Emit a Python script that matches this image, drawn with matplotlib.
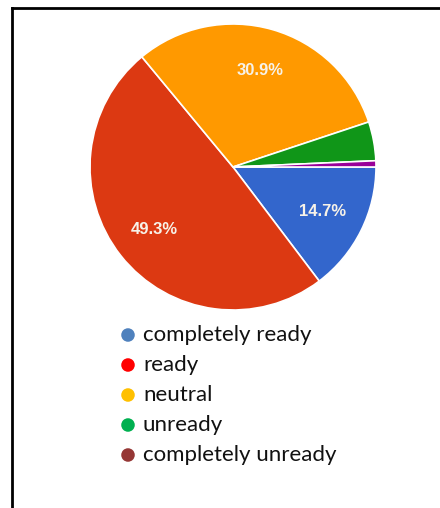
import matplotlib.pyplot as plt
from matplotlib.lines import Line2D

# --- Data ---
labels = ["completely ready", "ready", "neutral", "unready", "completely unready"]
shares = [14.7, 49.3, 30.9, 4.4, 0.7]
pie_colors = ["#3366cc", "#dc3912", "#ff9900", "#109618", "#990099"]
legend_colors = ["#4f81bd", "#ff0000", "#ffc000", "#00b050", "#953735"]

W, H = 440, 508
fig = plt.figure(figsize=(W / 100, H / 100), dpi=100)

# --- Pie ---
cx, cy, r = 233, 167, 143
ax = fig.add_axes([(cx - r) / W, (H - cy - r) / H, 2 * r / W, 2 * r / H])


def show_pct(p):
    return f"{p:.1f}%" if p >= 5 else ""


wedges, texts, autotexts = ax.pie(
    shares, colors=pie_colors, startangle=0, counterclock=False,
    autopct=show_pct, pctdistance=0.7,
    wedgeprops=dict(edgecolor="white", linewidth=1.2),
    textprops=dict(color="#f7f2e8", fontsize=12, fontweight="bold",
                   family="Liberation Sans"))
ax.set_xlim(-1.0, 1.0)
ax.set_ylim(-1.0, 1.0)
ax.set_aspect("equal")

# --- Legend below the pie ---
lax = fig.add_axes([0, 0, 1, 1])
lax.set_xlim(0, W)
lax.set_ylim(H, 0)
lax.axis("off")
row_y = [335, 365, 395, 425, 455]
for lab, col, y in zip(labels, legend_colors, row_y):
    lax.scatter([128], [y], s=95, color=col, edgecolors="none")
    lax.text(143, y, lab, fontsize=16, family="Lato", color="#111111",
             va="center", ha="left")

# --- Frame lines (screenshot border) ---
lax.add_line(Line2D([12, 12], [8, H], color="black", linewidth=2))
lax.add_line(Line2D([12, W], [8, 8], color="black", linewidth=2))

fig.savefig("out.png", dpi=100, facecolor="white")
